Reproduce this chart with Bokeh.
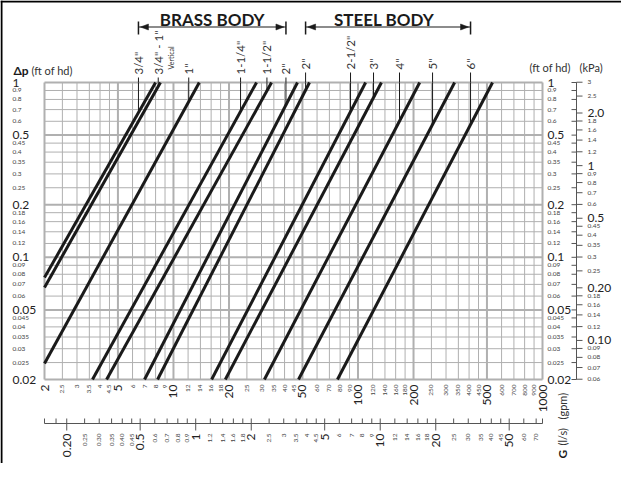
import math
from bokeh.plotting import figure
from bokeh.models import Range1d, LinearScale
from bokeh.core.properties import value
from bokeh.embed import file_html
from bokeh.resources import INLINE

# ---------------- data ----------------
sizes = ['3/4"', '3/4" - 1"', '1"', '1-1/4"', '1-1/2"', '2"',
         '2"', '2-1/2"', '3"', '4"', '5"', '6"']
is_steel = [False] * 6 + [True] * 6
# each pressure-drop line: start point (G gpm, dp ft) and end point
g_start = [2.0, 2.0, 2.0, 3.64, 4.34, 6.97, 8.2, 16.1, 19.1, 31.1, 47.6, 77.4]
dp_start = [0.0766, 0.0672, 0.0247, 0.02, 0.02, 0.02, 0.02, 0.02, 0.02, 0.02, 0.02, 0.02]
g_end = [8.0, 8.5, 13.8, 28.2, 34.0, 47.0, 54.6, 110.0, 134.0, 216.0, 334.0, 536.0]
dp_end = [1.0] * 12
# flow (gpm) at which each size label / leader sits
label_g = [6.46, 8.27, 12.1, 23.1, 32.1, 40.7, 52.0, 91.1, 121.4, 167.9, 253.6, 407.4]

gpm_labels = ["2", "2.5", "3", "3.5", "4", "4.5", "5", "6", "7", "8", "9", "10",
              "12", "14", "16", "18", "20", "25", "30", "35", "40", "45", "50",
              "60", "70", "80", "90", "100", "120", "140", "160", "180", "200",
              "250", "300", "350", "400", "450", "500", "600", "700", "800", "900", "1000"]
gpm_major = ["2", "5", "10", "20", "50", "100", "200", "500", "1000"]
dp_labels = ["1", "0.9", "0.8", "0.7", "0.6", "0.5", "0.45", "0.4", "0.35", "0.3",
             "0.25", "0.2", "0.18", "0.16", "0.14", "0.12", "0.1", "0.09", "0.08",
             "0.07", "0.06", "0.05", "0.045", "0.04", "0.035", "0.03", "0.025", "0.02"]
dp_major = ["1", "0.5", "0.2", "0.1", "0.05", "0.02"]
kpa_labels = ["3", "2.5", "2.0", "1.8", "1.6", "1.4", "1.2", "1", "0.9", "0.8", "0.7",
              "0.6", "0.5", "0.45", "0.4", "0.35", "0.3", "0.25", "0.20", "0.18", "0.16",
              "0.14", "0.12", "0.10", "0.09", "0.08", "0.07", "0.06"]
kpa_major = ["2.0", "1", "0.5", "0.20", "0.10"]
ls_labels = ["0.20", "0.25", "0.30", "0.35", "0.40", "0.45", "0.5", "0.6", "0.7", "0.8",
             "0.9", "1", "1.2", "1.4", "1.6", "1.8", "2", "2.5", "3", "3.5", "4", "4.5",
             "5", "6", "7", "8", "9", "10", "12", "14", "16", "18", "20", "25", "30",
             "35", "40", "45", "50", "60", "70"]
ls_major = ["0.20", "0.5", "1", "2", "5", "10", "20", "50"]
ls_extra_ticks = [0.175]

KPA_PER_FT = 2.989      # 1 ft of water = 2.989 kPa
GPM_PER_LS = 13.198     # 1 l/s = 13.198 imperial gpm

# ---------------- layout ----------------
W, H = 621, 463
GL, GR, GT, GB = 44, 542, 82, 379          # grid box in canvas px
G_MIN, G_MAX, P_MIN, P_MAX = 2.0, 1000.0, 0.02, 1.0
kx = (GR - GL) / math.log10(G_MAX / G_MIN)
ky = (GB - GT) / math.log10(P_MAX / P_MIN)
xr = Range1d(G_MIN * 10 ** (-GL / kx), G_MIN * 10 ** ((W - GL) / kx))
yr = Range1d(P_MIN * 10 ** (-(H - GB) / ky), P_MAX * 10 ** (GT / ky))

FONT = value("Lato")
INK = "#1a1a1a"
TXT = "#333333"
GRID = "#b0b0b0"

p = figure(width=W, height=H, x_axis_type="log", y_axis_type="log",
           x_range=xr, y_range=yr, x_axis_location=None, y_axis_location=None,
           toolbar_location=None, output_backend="svg", min_border=0,
           outline_line_color=None, title=None)
p.xgrid.visible = False
p.ygrid.visible = False
p.background_fill_color = "white"
p.border_fill_color = "white"
p.extra_x_ranges = {"sx": Range1d(0, W)}
p.extra_y_ranges = {"sy": Range1d(H, 0)}
p.extra_x_scales = {"sx": LinearScale()}
p.extra_y_scales = {"sy": LinearScale()}
SX = dict(x_range_name="sx")
SY = dict(y_range_name="sy")

# border of the sheet
p.segment(x0=[1, 0], y0=[0, 1], x1=[1, W], y1=[H, 1], line_color="black", line_width=2, **SX, **SY)

# ---------------- grid ----------------
gpm_vals = [float(s) for s in gpm_labels]
dp_vals = [float(s) for s in dp_labels]
for major in (False, True):
    xs = [v for s, v in zip(gpm_labels, gpm_vals) if (s in gpm_major) == major]
    ys = [v for s, v in zip(dp_labels, dp_vals) if (s in dp_major) == major]
    lw = 2 if major else 1
    p.segment(x0=xs, x1=xs, y0=[P_MIN] * len(xs), y1=[P_MAX] * len(xs),
              line_color=GRID, line_width=lw)
    p.segment(x0=[G_MIN] * len(ys), x1=[G_MAX] * len(ys), y0=ys, y1=ys,
              line_color=GRID, line_width=lw)

# ---------------- pressure-drop lines ----------------
p.segment(x0=g_start, y0=dp_start, x1=g_end, y1=dp_end, line_color=INK, line_width=3)

# leaders from the labels down to their lines
leader_dp = []
for i in range(len(sizes)):
    n = math.log(dp_end[i] / dp_start[i]) / math.log(g_end[i] / g_start[i])
    leader_dp.append(dp_start[i] * (label_g[i] / g_start[i]) ** n)
p.segment(x0=label_g, x1=label_g, y0=leader_dp, y1=[P_MAX] * len(sizes),
          line_color=INK, line_width=1)
lead_top = [72 if s else 77 for s in is_steel]
p.segment(x0=label_g, x1=label_g, y0=[GT] * len(sizes), y1=lead_top,
          line_color=INK, line_width=1, **SY)
lab_bot = [69 if s else 74 for s in is_steel]
p.text(x=label_g, y=lab_bot, text=sizes, angle=math.pi / 2, text_align="left",
       text_baseline="middle", text_font=FONT, text_font_size="11.5px",
       text_color=TXT, **SY)
p.text(x=[label_g[1]], y=[69], text=["Vertical"], angle=math.pi / 2, x_offset=13,
       text_align="left", text_baseline="middle", text_font=FONT,
       text_font_size="7px", text_color=TXT, **SY)

# ---------------- body headers with arrows ----------------
tip = 10 ** (2 / kx)
base = 10 ** (10 / kx)
for title, i0, i1, dx in (("BRASS BODY", 0, 5, 0), ("STEEL BODY", 6, 11, -4)):
    ga, gb = label_g[i0], label_g[i1]
    p.text(x=[math.sqrt(ga * gb)], y=[18.5], text=[title], text_align="center",
           text_baseline="middle", text_font=FONT, text_font_size="17px",
           text_font_style="bold", text_color=INK, x_offset=dx, **SY)
    p.segment(x0=[ga], x1=[gb], y0=[26.5], y1=[26.5], line_color=INK, line_width=1.2, **SY)
    p.segment(x0=[ga, gb], x1=[ga, gb], y0=[21, 21], y1=[34, 34],
              line_color=INK, line_width=1.5, **SY)
    p.patches(xs=[[ga * tip, ga * base, ga * base], [gb / tip, gb / base, gb / base]],
              ys=[[26.5, 23.5, 29.5], [26.5, 23.5, 29.5]],
              fill_color=INK, line_color=INK, line_width=0.5, **SY)

# ---------------- left / right ft of hd labels ----------------
for major in (False, True):
    labs = [s for s in dp_labels if (s in dp_major) == major]
    vals = [float(s) for s in labs]
    fs = "12px" if major else "6.5px"
    col = "#222222" if major else "#444444"
    for xpos in (12, 547):
        p.text(x=[xpos] * len(labs), y=vals, text=labs, text_align="left",
               text_baseline="middle", text_font=FONT, text_font_size=fs,
               text_color=col, **SX)

# ---------------- kPa scale ----------------
kpa_dp = [float(s) / KPA_PER_FT for s in kpa_labels]
p.segment(x0=[576], x1=[576], y0=[P_MIN], y1=[max(kpa_dp)], line_color="#555555",
          line_width=1, **SX)
p.segment(x0=[576] * len(kpa_dp), x1=[582] * len(kpa_dp), y0=kpa_dp, y1=kpa_dp,
          line_color="#555555", line_width=1, **SX)
p.segment(x0=[571] * len(dp_vals), x1=[576] * len(dp_vals), y0=dp_vals, y1=dp_vals,
          line_color="#555555", line_width=1, **SX)
for major in (False, True):
    labs = [s for s in kpa_labels if (s in kpa_major) == major]
    vals = [float(s) / KPA_PER_FT for s in labs]
    p.text(x=[587] * len(labs), y=vals, text=labs, text_align="left",
           text_baseline="middle", text_font=FONT,
           text_font_size="12px" if major else "6.5px",
           text_color="#222222" if major else "#444444", **SX)

# ---------------- gpm labels under the grid ----------------
for major in (False, True):
    labs = [s for s in gpm_labels if (s in gpm_major) == major]
    vals = [float(s) for s in labs]
    p.text(x=vals, y=[384] * len(labs), text=labs, angle=math.pi / 2,
           text_align="right", text_baseline="middle", text_font=FONT,
           text_font_size="12px" if major else "6.5px",
           text_color="#222222" if major else "#444444", **SY)

# ---------------- l/s scale ----------------
ls_gpm = [float(s) * GPM_PER_LS for s in ls_labels]
tick_x = ls_gpm + [v * GPM_PER_LS for v in ls_extra_ticks] + [G_MIN, G_MAX]
p.segment(x0=[G_MIN], x1=[G_MAX], y0=[423], y1=[423], line_color="#555555",
          line_width=1, **SY)
p.segment(x0=tick_x, x1=tick_x, y0=[418] * len(tick_x), y1=[423] * len(tick_x),
          line_color="#555555", line_width=1, **SY)
maj_x = [float(s) * GPM_PER_LS for s in ls_major]
p.segment(x0=maj_x, x1=maj_x, y0=[423] * len(maj_x), y1=[430] * len(maj_x),
          line_color="#555555", line_width=1, **SY)
for major in (False, True):
    labs = [s for s in ls_labels if (s in ls_major) == major]
    vals = [float(s) * GPM_PER_LS for s in labs]
    p.text(x=vals, y=[433] * len(labs), text=labs, angle=math.pi / 2,
           text_align="right", text_baseline="middle", text_font=FONT,
           text_font_size="12px" if major else "6.5px",
           text_color="#222222" if major else "#444444", **SY)

# ---------------- axis titles ----------------
p.text(x=[13], y=[70], text=["Δp"], text_align="left", text_baseline="middle",
       text_font=FONT, text_font_size="12px", text_font_style="bold",
       text_color=INK, **SX, **SY)
p.text(x=[31, 529, 579], y=[70, 67, 67], text=["(ft of hd)", "(ft of hd)", "(kPa)"],
       text_align="left", text_baseline="middle", text_font=FONT,
       text_font_size="11px", text_color=TXT, **SX, **SY)
p.text(x=[562], y=[458], text=["G"], angle=math.pi / 2, text_align="left",
       text_baseline="middle", text_font=FONT, text_font_size="12px",
       text_font_style="bold", text_color=INK, **SX, **SY)
p.text(x=[562, 562], y=[445, 419], text=["(l/s)", "(gpm)"], angle=math.pi / 2,
       text_align="left", text_baseline="middle", text_font=FONT,
       text_font_size="11px", text_color=TXT, **SX, **SY)

open("out.html", "w").write(file_html(p, INLINE))
